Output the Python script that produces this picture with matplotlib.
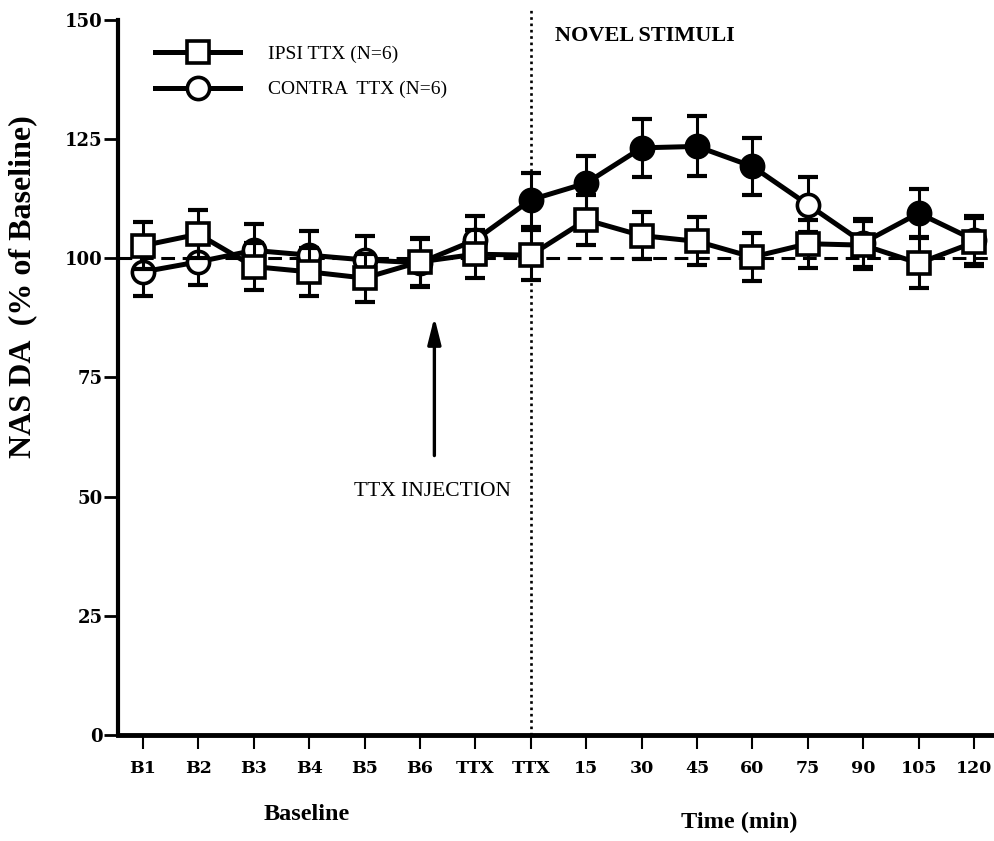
import matplotlib
matplotlib.use("Agg")
import matplotlib.pyplot as plt
import numpy as np

# Sample labels along the time axis
tick_labels = ["B1", "B2", "B3", "B4", "B5", "B6", "TTX", "TTX",
               "15", "30", "45", "60", "75", "90", "105", "120"]

# NAS DA, % of baseline (mean and SEM)
ipsi_mean = [102.6, 105.0, 98.2, 97.1, 95.8, 99.2, 100.8, 100.6,
             108.0, 104.7, 103.5, 100.2, 103.0, 102.7, 98.9, 103.3]
ipsi_sem = [5.0, 5.0, 5.0, 5.0, 5.0, 5.0, 5.0, 5.3,
            5.3, 5.0, 5.0, 5.0, 5.0, 5.0, 5.2, 5.0]

contra_mean = [97.1, 99.2, 101.6, 100.6, 99.6, 99.0, 103.8, 112.2,
               115.7, 123.1, 123.4, 119.2, 111.2, 103.2, 109.4, 103.8]
contra_sem = [5.0, 4.8, 5.6, 5.0, 5.0, 5.0, 5.0, 5.7,
              5.6, 6.1, 6.3, 6.0, 5.7, 5.0, 5.0, 5.0]
# filled symbols mark points that differ from baseline
contra_sig = [False, False, False, False, False, False, False, True,
              True, True, True, True, False, False, True, False]

x = np.arange(len(tick_labels))

serif = "Liberation Serif"
plt.rcParams["font.family"] = serif

fig = plt.figure(figsize=(9.94, 8.41), dpi=100)
ax = fig.add_axes([118 / 994, 106 / 841, 876 / 994, 725 / 841])

lw = 3.6
ms = 16

# baseline reference
ax.axhline(100, color="black", lw=2.2, ls=(0, (4.5, 2.5)), zorder=1)
# onset of novel stimuli
ax.axvline(7, color="black", lw=1.9, ls=(0, (1, 1.4)), zorder=1)

# contralateral series
ax.errorbar(x, contra_mean, yerr=contra_sem, fmt="none", ecolor="black",
            elinewidth=2.2, capsize=7, capthick=3, zorder=2)
ax.plot(x, contra_mean, color="black", lw=lw, zorder=3)
fc = ["black" if s else "white" for s in contra_sig]
for xi, yi, f in zip(x, contra_mean, fc):
    ax.plot(xi, yi, marker="o", ms=ms, mfc=f, mec="black", mew=2.6,
            zorder=4)

# ipsilateral series
ax.errorbar(x, ipsi_mean, yerr=ipsi_sem, fmt="none", ecolor="black",
            elinewidth=2.2, capsize=7, capthick=3, zorder=5)
ax.plot(x, ipsi_mean, color="black", lw=lw, marker="s", ms=ms,
        mfc="white", mec="black", mew=2.6, zorder=6)

ax.set_xlim(-0.45, 15.36)
ax.set_ylim(0, 152)

for side in ("top", "right"):
    ax.spines[side].set_visible(False)
ax.spines["left"].set_bounds(0, 150)
ax.spines["left"].set_linewidth(3)
ax.spines["bottom"].set_linewidth(3.5)

ax.set_yticks([0, 25, 50, 75, 100, 125, 150])
ax.set_xticks(x)
ax.set_xticklabels(tick_labels)
ax.tick_params(axis="y", direction="out", length=10, width=2, pad=1,
               labelsize=13)
ax.tick_params(axis="x", direction="out", length=10, width=1.5, pad=8,
               labelsize=12.5)
for lab in ax.get_yticklabels() + ax.get_xticklabels():
    lab.set_fontweight("bold")
    lab.set_family("DejaVu Serif")

ax.set_ylabel("NAS DA  (% of Baseline)", fontsize=23, fontweight="bold")
ax.yaxis.set_label_coords(-0.0925, 0.619)

# group labels under the axis
fig.text(307 / 994, 1 - 815 / 841, "Baseline", ha="center", va="center",
         fontsize=17.5, fontweight="bold")
fig.text(739 / 994, 1 - 822 / 841, "Time (min)", ha="center", va="center",
         fontsize=17.5, fontweight="bold")

ax.text(7.44, 146.6, "NOVEL STIMULI", ha="left", va="center", fontsize=16,
        fontweight="bold")

# injection arrow
ax.annotate("", xy=(5.26, 88.2), xytext=(5.26, 58.0),
            arrowprops=dict(arrowstyle="-|>,head_length=1.6,head_width=0.4",
                            color="black", lw=2.4))
ax.text(5.23, 51, "TTX INJECTION", ha="center", va="center", fontsize=15.5)

# legend
leg = ax.legend(
    [plt.Line2D([], [], color="black", lw=lw, marker="s", ms=ms,
                mfc="white", mec="black", mew=2.6),
     plt.Line2D([], [], color="black", lw=lw, marker="o", ms=ms,
                mfc="white", mec="black", mew=2.6)],
    ["IPSI TTX (N=6)", "CONTRA  TTX (N=6)"],
    loc="upper left", bbox_to_anchor=(0.042, 0.951), frameon=False,
    borderpad=0, borderaxespad=0,
    handlelength=4.4, fontsize=14, labelspacing=0.9, handletextpad=1.4)

fig.savefig("out.png", dpi=100)
